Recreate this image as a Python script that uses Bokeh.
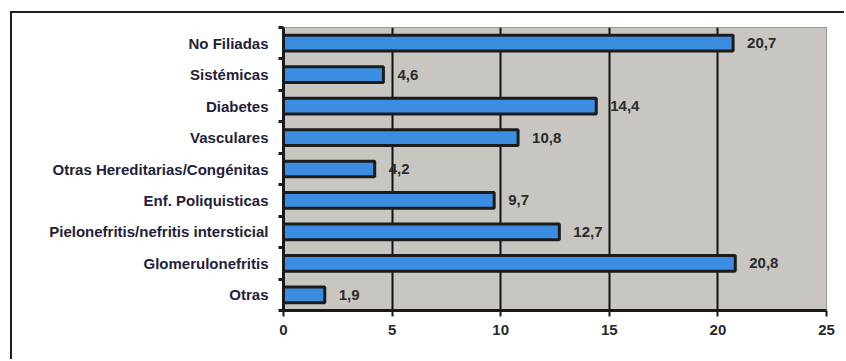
from bokeh.plotting import figure
from bokeh.models import ColumnDataSource, Range1d, FixedTicker, LabelSet
from bokeh.core.properties import value
from bokeh.embed import file_html
from bokeh.resources import INLINE

# Causes of chronic kidney disease (%)
categories = [
    "No Filiadas",
    "Sistémicas",
    "Diabetes",
    "Vasculares",
    "Otras Hereditarias/Congénitas",
    "Enf. Poliquisticas",
    "Pielonefritis/nefritis intersticial",
    "Glomerulonefritis",
    "Otras",
]
values = [20.7, 4.6, 14.4, 10.8, 4.2, 9.7, 12.7, 20.8, 1.9]
x_ticks = [0, 5, 10, 15, 20, 25]

n = len(categories)
ypos = [n - 0.5 - i for i in range(n)]
labels = [f"{v:.1f}".replace(".", ",") for v in values]

src = ColumnDataSource(dict(y=ypos, v=values, cat=categories, lbl=labels))

FONT = "Liberation Sans"

p = figure(
    width=834, height=348,
    x_range=Range1d(0, 25), y_range=Range1d(0, n),
    output_backend="svg", toolbar_location=None,
    min_border_left=271, min_border_right=20,
    min_border_top=14, min_border_bottom=51,
)
p.margin = (11, 0, 0, 10)
p.styles = {"border-left": "2px solid #1e1e1e", "border-top": "2px solid #1e1e1e"}

p.background_fill_color = "#c9c6c2"
p.border_fill_color = "white"
p.outline_line_color = "#9a9896"
p.outline_line_width = 1

p.hbar(y="y", left=0, right="v", height=0.5, source=src,
       fill_color="#3a8de0", line_color="#1c1c1c", line_width=3)

p.add_layout(LabelSet(x="v", y="y", text="lbl", source=src, x_offset=14,
                      text_baseline="middle", text_align="left",
                      text_font=value(FONT), text_font_size="15px",
                      text_font_style="bold", text_color="#2b2b2b"))

# vertical grid only
p.ygrid.visible = False
p.xgrid.ticker = FixedTicker(ticks=x_ticks[1:-1])
p.xgrid.grid_line_color = "#111111"
p.xgrid.grid_line_width = 2

# x axis
p.xaxis.ticker = FixedTicker(ticks=x_ticks)
p.xaxis.axis_line_width = 3
p.xaxis.axis_line_color = "#1a1a1a"
p.xaxis.major_tick_in = 0
p.xaxis.major_tick_out = 6
p.xaxis.major_tick_line_width = 2
p.xaxis.major_tick_line_color = "#1a1a1a"
p.xaxis.minor_tick_line_color = None
p.xaxis.major_label_text_font = FONT
p.xaxis.major_label_text_font_size = "15px"
p.xaxis.major_label_text_font_style = "bold"
p.xaxis.major_label_text_color = "#2b2b2b"
p.xaxis.major_label_standoff = 8

# y axis: labels at category centres, tick marks at boundaries
p.yaxis.ticker = FixedTicker(ticks=ypos, minor_ticks=list(range(n + 1)))
p.yaxis.major_label_overrides = {y: c for y, c in zip(ypos, categories)}
p.yaxis.axis_line_width = 3
p.yaxis.axis_line_color = "#1a1a1a"
p.yaxis.major_tick_line_color = None
p.yaxis.minor_tick_in = 0
p.yaxis.minor_tick_out = 5
p.yaxis.minor_tick_line_width = 3
p.yaxis.minor_tick_line_color = "#1a1a1a"
p.yaxis.major_label_text_font = FONT
p.yaxis.major_label_text_font_style = "bold"
p.yaxis.major_label_text_font_size = "15px"
p.yaxis.major_label_text_color = "#1f2238"
p.yaxis.major_label_standoff = 9

open("out.html", "w").write(file_html(p, INLINE))
